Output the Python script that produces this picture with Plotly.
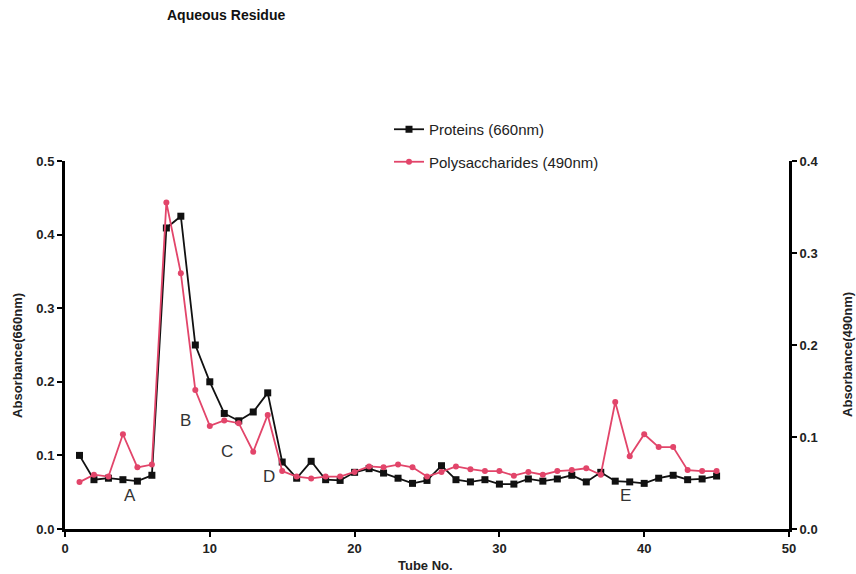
import plotly.graph_objects as go

tubes = list(range(1, 46))
proteins = [0.100, 0.067, 0.069, 0.067, 0.065, 0.073, 0.409, 0.425, 0.250, 0.200,
            0.157, 0.147, 0.159, 0.185, 0.091, 0.069, 0.092, 0.067, 0.066, 0.077,
            0.082, 0.076, 0.069, 0.062, 0.066, 0.086, 0.067, 0.064, 0.067, 0.061,
            0.061, 0.068, 0.065, 0.068, 0.073, 0.064, 0.077, 0.065, 0.064, 0.062,
            0.069, 0.073, 0.067, 0.068, 0.072]
polysacch = [0.051, 0.059, 0.057, 0.103, 0.067, 0.070, 0.355, 0.278, 0.151, 0.112,
             0.118, 0.115, 0.084, 0.124, 0.063, 0.057, 0.055, 0.057, 0.057, 0.062,
             0.068, 0.067, 0.070, 0.067, 0.057, 0.062, 0.068, 0.065, 0.063, 0.063,
             0.058, 0.062, 0.059, 0.063, 0.064, 0.066, 0.059, 0.138, 0.079, 0.103,
             0.089, 0.089, 0.064, 0.063, 0.063]
peak_labels = ["A", "B", "C", "D", "E"]
peak_x = [4.5, 8.3, 11.2, 14.1, 38.7]
peak_y = [0.046, 0.148, 0.105, 0.071, 0.045]

RED = "#e2456a"
BLACK = "#111111"
FONT = "Liberation Sans, Arial, sans-serif"

fig = go.Figure()
fig.add_trace(go.Scatter(x=tubes, y=proteins, mode="lines+markers", name="Proteins (660nm)",
                         line=dict(color=BLACK, width=1.8),
                         marker=dict(symbol="square", size=7, color=BLACK),
                         legendgroup="p"))
fig.add_trace(go.Scatter(x=tubes, y=polysacch, mode="lines+markers", name="Polysaccharides (490nm)",
                         line=dict(color=RED, width=1.8),
                         marker=dict(symbol="circle", size=6, color=RED),
                         yaxis="y2", legendgroup="s"))

for t, x, y in zip(peak_labels, peak_x, peak_y):
    fig.add_annotation(x=x, y=y, text=t, showarrow=False, xref="x", yref="y",
                       font=dict(family=FONT, size=17, color="#333333"))

title_font = dict(family=FONT, size=13, color="#222222")
fig.add_annotation(text="<b>Tube No.</b>", xref="paper", yref="paper", x=0.4986, y=-0.098,
                   xanchor="center", yanchor="middle", showarrow=False, font=title_font)
fig.add_annotation(text="<b>Absorbance(660nm)</b>", xref="paper", yref="paper", x=-0.065, y=0.473,
                   xanchor="center", yanchor="middle", showarrow=False, textangle=-90,
                   font=title_font)
fig.add_annotation(text="<b>Absorbance(490nm)</b>", xref="paper", yref="paper", x=1.0815, y=0.473,
                   xanchor="center", yanchor="middle", showarrow=False, textangle=-90,
                   font=title_font)

axis_common = dict(showline=True, linewidth=3, linecolor="black", ticks="outside",
                   ticklen=5, tickwidth=2, tickcolor="black", showgrid=False,
                   zeroline=False,
                   tickfont=dict(family=FONT, size=13, color="#222222", weight="bold"))

fig.update_layout(
    width=856, height=574,
    margin=dict(l=65, r=67, t=161, b=45),
    plot_bgcolor="white", paper_bgcolor="white",
    title=dict(text="<b>Aqueous Residue</b>", x=167/856, xanchor="left", y=1 - 15/574,
               yanchor="middle", font=dict(family=FONT, size=14, color="#111111")),
    xaxis=dict(range=[0, 50], tickvals=[0, 10, 20, 30, 40, 50], **axis_common),
    yaxis=dict(range=[0, 0.5], tickvals=[0, 0.1, 0.2, 0.3, 0.4, 0.5], tickformat=".1f",
               **axis_common),
    yaxis2=dict(range=[0, 0.4], tickvals=[0, 0.1, 0.2, 0.3, 0.4], tickformat=".1f",
                overlaying="y", side="right", **axis_common),
    legend=dict(x=(389 - 65) / 724, xanchor="left", y=(529 - 113) / 368, yanchor="top",
                bgcolor="rgba(0,0,0,0)", tracegroupgap=10,
                font=dict(family=FONT, size=15, color="#222222")),
    showlegend=True,
)

fig.write_html("out.html", config={"displayModeBar": False},
               post_script="document.body.style.margin='0';document.body.style.overflow='hidden';")
